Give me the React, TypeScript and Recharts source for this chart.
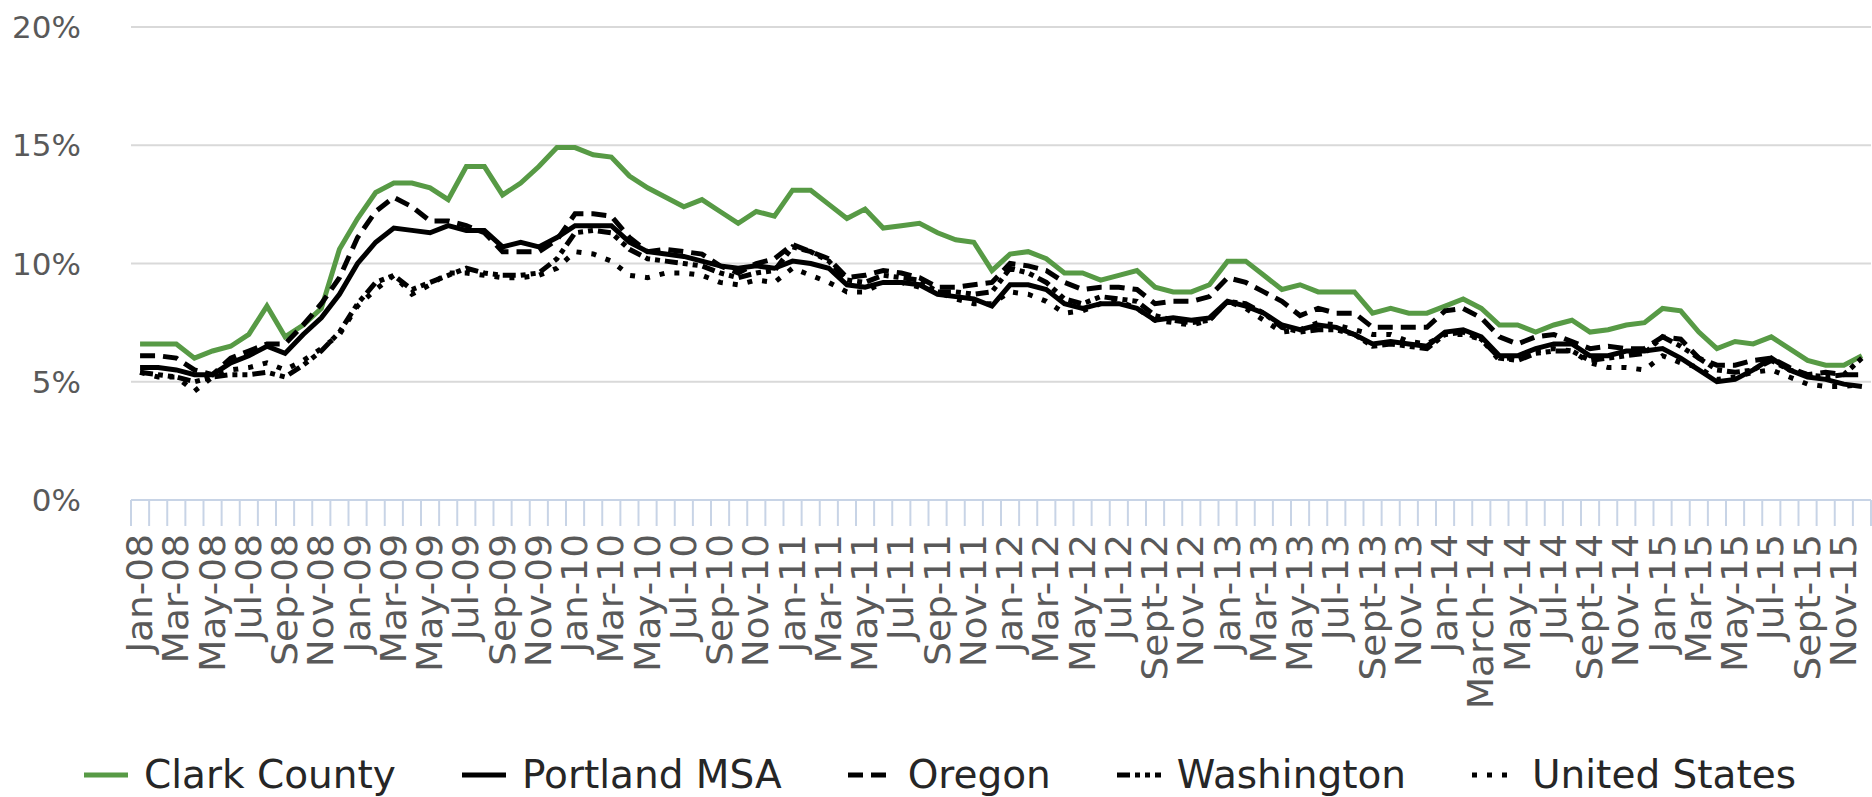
import { LineChart, Line, XAxis, YAxis, CartesianGrid } from 'recharts'

// monthly unemployment rate, Jan 2008 - Dec 2015
const months = [
  'Jan-08', 'Feb-08', 'Mar-08', 'Apr-08', 'May-08', 'Jun-08', 'Jul-08', 'Aug-08', 'Sep-08', 'Oct-08', 'Nov-08', 'Dec-08',
  'Jan-09', 'Feb-09', 'Mar-09', 'Apr-09', 'May-09', 'Jun-09', 'Jul-09', 'Aug-09', 'Sep-09', 'Oct-09', 'Nov-09', 'Dec-09',
  'Jan-10', 'Feb-10', 'Mar-10', 'Apr-10', 'May-10', 'Jun-10', 'Jul-10', 'Aug-10', 'Sep-10', 'Oct-10', 'Nov-10', 'Dec-10',
  'Jan-11', 'Feb-11', 'Mar-11', 'Apr-11', 'May-11', 'Jun-11', 'Jul-11', 'Aug-11', 'Sep-11', 'Oct-11', 'Nov-11', 'Dec-11',
  'Jan-12', 'Feb-12', 'Mar-12', 'Apr-12', 'May-12', 'Jun-12', 'Jul-12', 'Aug-12', 'Sept-12', 'Oct-12', 'Nov-12', 'Dec-12',
  'Jan-13', 'Feb-13', 'Mar-13', 'Apr-13', 'May-13', 'Jun-13', 'Jul-13', 'Aug-13', 'Sept-13', 'Oct-13', 'Nov-13', 'Dec-13',
  'Jan-14', 'Feb-14', 'March-14', 'Apr-14', 'May-14', 'Jun-14', 'Jul-14', 'Aug-14', 'Sept-14', 'Oct-14', 'Nov-14', 'Dec-14',
  'Jan-15', 'Feb-15', 'Mar-15', 'Apr-15', 'May-15', 'Jun-15', 'Jul-15', 'Aug-15', 'Sept-15', 'Oct-15', 'Nov-15', 'Dec-15',
]

const clarkCounty = [
  6.6, 6.6, 6.6, 6.0, 6.3, 6.5, 7.0, 8.2, 6.9, 7.4, 8.1, 10.6,
  11.9, 13.0, 13.4, 13.4, 13.2, 12.7, 14.1, 14.1, 12.9, 13.4, 14.1, 14.9,
  14.9, 14.6, 14.5, 13.7, 13.2, 12.8, 12.4, 12.7, 12.2, 11.7, 12.2, 12.0,
  13.1, 13.1, 12.5, 11.9, 12.3, 11.5, 11.6, 11.7, 11.3, 11.0, 10.9, 9.7,
  10.4, 10.5, 10.2, 9.6, 9.6, 9.3, 9.5, 9.7, 9.0, 8.8, 8.8, 9.1,
  10.1, 10.1, 9.5, 8.9, 9.1, 8.8, 8.8, 8.8, 7.9, 8.1, 7.9, 7.9,
  8.2, 8.5, 8.1, 7.4, 7.4, 7.1, 7.4, 7.6, 7.1, 7.2, 7.4, 7.5,
  8.1, 8.0, 7.1, 6.4, 6.7, 6.6, 6.9, 6.4, 5.9, 5.7, 5.7, 6.1,
]

const portlandMsa = [
  5.6, 5.6, 5.5, 5.3, 5.3, 5.8, 6.1, 6.5, 6.2, 7.0, 7.7, 8.7,
  10.0, 10.9, 11.5, 11.4, 11.3, 11.6, 11.4, 11.4, 10.7, 10.9, 10.7, 11.1,
  11.6, 11.6, 11.6, 10.9, 10.5, 10.4, 10.3, 10.1, 9.9, 9.8, 9.9, 9.8,
  10.1, 10.0, 9.8, 9.1, 9.0, 9.2, 9.2, 9.1, 8.7, 8.6, 8.5, 8.2,
  9.1, 9.1, 8.9, 8.3, 8.1, 8.3, 8.3, 8.1, 7.6, 7.7, 7.6, 7.7,
  8.4, 8.2, 7.9, 7.4, 7.2, 7.4, 7.3, 7.0, 6.6, 6.7, 6.6, 6.5,
  7.1, 7.2, 6.9, 6.1, 6.1, 6.4, 6.6, 6.6, 6.1, 6.1, 6.3, 6.3,
  6.4, 6.0, 5.5, 5.0, 5.1, 5.5, 6.0, 5.5, 5.2, 5.1, 4.9, 4.8,
]

const oregon = [
  6.1, 6.1, 6.0, 5.5, 5.3, 6.0, 6.3, 6.6, 6.6, 7.4, 8.3, 9.4,
  11.1, 12.2, 12.8, 12.4, 11.8, 11.8, 11.6, 11.3, 10.5, 10.5, 10.5, 11.0,
  12.1, 12.1, 12.0, 11.1, 10.5, 10.6, 10.5, 10.4, 9.9, 9.6, 10.0, 10.2,
  10.8, 10.5, 10.2, 9.4, 9.5, 9.7, 9.6, 9.4, 9.0, 9.0, 9.1, 9.2,
  10.0, 9.9, 9.7, 9.2, 8.9, 9.0, 9.0, 8.9, 8.3, 8.4, 8.4, 8.6,
  9.4, 9.2, 8.8, 8.4, 7.8, 8.1, 7.9, 7.9, 7.3, 7.3, 7.3, 7.3,
  8.0, 8.1, 7.7, 6.9, 6.6, 6.9, 7.0, 6.7, 6.4, 6.5, 6.4, 6.4,
  6.9, 6.8, 6.0, 5.7, 5.7, 5.9, 6.0, 5.6, 5.3, 5.4, 5.3, 5.3,
]

const washington = [
  5.4, 5.3, 5.2, 5.0, 5.2, 5.3, 5.3, 5.4, 5.2, 5.7, 6.3, 7.1,
  8.3, 9.2, 9.5, 8.9, 9.2, 9.5, 9.8, 9.6, 9.5, 9.5, 9.6, 10.2,
  11.3, 11.4, 11.3, 10.6, 10.2, 10.1, 10.0, 9.9, 9.6, 9.4, 9.6, 9.7,
  10.7, 10.5, 10.1, 9.3, 9.2, 9.5, 9.4, 9.3, 8.8, 8.8, 8.7, 8.8,
  9.8, 9.6, 9.2, 8.5, 8.3, 8.6, 8.5, 8.4, 7.8, 7.6, 7.5, 7.6,
  8.4, 8.3, 7.9, 7.3, 7.1, 7.2, 7.2, 7.0, 6.5, 6.6, 6.5, 6.4,
  7.0, 7.1, 6.8, 6.0, 5.9, 6.2, 6.3, 6.3, 5.9, 6.0, 6.1, 6.2,
  6.9, 6.5, 6.0, 5.5, 5.4, 5.5, 5.9, 5.5, 5.3, 5.2, 5.3, 6.0,
]

const unitedStates = [
  5.4, 5.2, 5.2, 4.6, 5.2, 5.5, 5.6, 5.8, 5.5, 5.9, 6.4, 7.0,
  8.2, 8.9, 9.5, 8.7, 9.1, 9.6, 9.6, 9.5, 9.4, 9.4, 9.5, 9.8,
  10.5, 10.4, 10.1, 9.5, 9.4, 9.6, 9.6, 9.5, 9.2, 9.1, 9.3, 9.2,
  9.8, 9.5, 9.2, 8.8, 8.8, 9.2, 9.2, 9.0, 8.8, 8.5, 8.3, 8.3,
  8.8, 8.7, 8.4, 7.9, 8.0, 8.3, 8.4, 8.1, 7.6, 7.5, 7.4, 7.6,
  8.4, 8.1, 7.6, 7.1, 7.2, 7.5, 7.4, 7.2, 7.0, 7.0, 6.7, 6.6,
  7.0, 7.0, 6.8, 5.9, 6.1, 6.3, 6.4, 6.3, 5.8, 5.6, 5.6, 5.5,
  6.1, 5.8, 5.6, 5.1, 5.2, 5.4, 5.5, 5.2, 4.9, 4.8, 4.8, 4.9,
]

const yTicks = [0, 5, 10, 15, 20]

const series = [
  { key: 'clark', name: 'Clark County', values: clarkCounty, color: '#579a45', width: 5, dash: undefined },
  { key: 'portland', name: 'Portland MSA', values: portlandMsa, color: '#000000', width: 5, dash: undefined },
  { key: 'oregon', name: 'Oregon', values: oregon, color: '#000000', width: 5, dash: '15 8' },
  { key: 'washington', name: 'Washington', values: washington, color: '#000000', width: 5, dash: '13 5 5 5 5 5' },
  { key: 'us', name: 'United States', values: unitedStates, color: '#000000', width: 5, dash: '5 10' },
]

const axisColor = '#c8d4e6'
const labelColor = '#595959'
const font = '"DejaVu Sans", sans-serif'

// x sits in the middle of each month's band, so boundaries fall on integers
const data = months.map((month, i) => {
  const row: Record<string, any> = { x: i + 0.5, month }
  series.forEach(s => { row[s.key] = s.values[i] })
  return row
})

// integer ticks draw the boundary marks, every other month gets a label
const xTicks: number[] = []
for (let i = 0; i <= months.length; i++) {
  xTicks.push(i)
  if (i < months.length && i % 2 === 0) xTicks.push(i + 0.5)
}

const XTick = (props: any) => {
  const { x, y, payload } = props
  const v = payload.value
  if (Number.isInteger(v)) {
    return <line x1={x} x2={x} y1={y} y2={y + 26} stroke={axisColor} strokeWidth={2} />
  }
  return (
    <text
      transform={`translate(${x},${y + 34}) rotate(-90) scale(1.07,1)`}
      textAnchor="end"
      dominantBaseline="central"
      fontSize={35}
      fontFamily={font}
      fill={labelColor}
    >
      {months[Math.floor(v)]}
    </text>
  )
}

const YTick = (props: any) => {
  const { y, payload } = props
  return (
    <text x={81} y={y} textAnchor="end" dominantBaseline="central" fontSize={31} fontFamily={font} fill={labelColor}>
      {payload.value}%
    </text>
  )
}

export default function App() {
  return (
    <div style={{ position: 'absolute', left: 0, top: 0, width: 1872, height: 797, background: '#fff' }}>
      <LineChart width={1872} height={797} data={data} margin={{ top: 27, right: 1, left: 0, bottom: 97 }}>
        <CartesianGrid vertical={false} stroke="#d9d9d9" strokeWidth={2} />
        <XAxis
          type="number"
          dataKey="x"
          domain={[0, months.length]}
          ticks={xTicks}
          interval={0}
          tick={<XTick />}
          tickLine={false}
          tickSize={0}
          tickMargin={0}
          axisLine={{ stroke: axisColor, strokeWidth: 2 }}
          height={200}
        />
        <YAxis
          type="number"
          domain={[0, 20]}
          ticks={yTicks}
          interval={0}
          tick={<YTick />}
          tickLine={false}
          axisLine={false}
          width={131}
        />
        {series.map(s => (
          <Line
            key={s.key}
            type="linear"
            dataKey={s.key}
            name={s.name}
            stroke={s.color}
            strokeWidth={s.width}
            strokeDasharray={s.dash}
            dot={false}
            activeDot={false}
            isAnimationActive={false}
          />
        ))}
      </LineChart>
      <div
        style={{
          position: 'absolute',
          left: 84,
          top: 755,
          display: 'flex',
          alignItems: 'center',
          fontFamily: font,
          fontSize: 39,
          color: '#262626',
          lineHeight: '40px',
          whiteSpace: 'nowrap',
        }}
      >
        {series.map(s => (
          <div key={s.key} style={{ display: 'flex', alignItems: 'center', marginRight: 66 }}>
            <svg width={44} height={10} style={{ marginRight: 16 }}>
              <line x1={0} x2={44} y1={5} y2={5} stroke={s.color} strokeWidth={s.width} strokeDasharray={s.dash} />
            </svg>
            <span>{s.name}</span>
          </div>
        ))}
      </div>
    </div>
  )
}
